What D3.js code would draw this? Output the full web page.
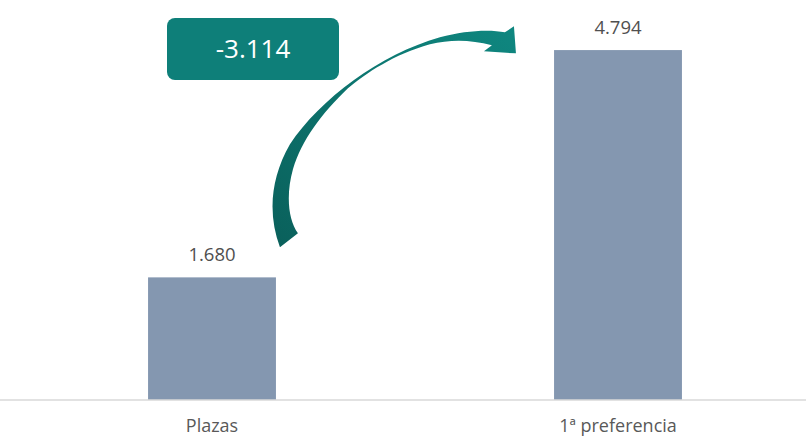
<!DOCTYPE html>
<html>
<head>
<meta charset="utf-8">
<script src="https://cdn.jsdelivr.net/npm/d3@7"></script>
<style>
    body { margin: 0; background: #fff; }
    svg text { font-family: "Open Sans", "Noto Sans", sans-serif; }
</style>
</head>
<body>
<div id="chart"></div>
<script>
// data
const categories = ["Plazas", "1ª preferencia"];
const values = [1680, 4794];
const valueLabels = ["1.680", "4.794"];
const diffLabel = "-3.114";

const width = 806, height = 438;

let svg = d3.select("#chart").append("svg")
    .attr("width", width)
    .attr("height", height);

// scales
let x = d3.scaleBand()
    .domain(categories)
    .range([9, 821])
    .paddingInner(0.685)
    .paddingOuter(0.3425);

let y = d3.scaleLinear()
    .domain([0, 5480])
    .range([400, 0]);

// bars
svg.selectAll(".bar")
    .data(values)
    .enter().append("rect")
    .attr("class", "bar")
    .attr("x", (d, i) => x(categories[i]))
    .attr("y", d => y(d))
    .attr("width", x.bandwidth())
    .attr("height", d => y(0) - y(d))
    .attr("fill", "#8497B0");

// baseline axis
let xAxis = d3.axisBottom(x).tickSize(0).tickPadding(0);
let axisG = svg.append("g")
    .attr("transform", "translate(0," + y(0) + ")")
    .call(xAxis);
axisG.select(".domain").remove();
axisG.selectAll("text").remove();
axisG.append("line")
    .attr("x1", 0).attr("x2", width)
    .attr("stroke", "#D9D9D9").attr("stroke-width", 1.5);

// category labels
svg.selectAll(".cat")
    .data(categories)
    .enter().append("text")
    .attr("class", "cat")
    .attr("x", d => x(d) + x.bandwidth() / 2)
    .attr("y", y(0) + 32)
    .attr("text-anchor", "middle")
    .attr("font-size", 18)
    .attr("fill", "#595959")
    .text(d => d);

// value labels
svg.selectAll(".val")
    .data(values)
    .enter().append("text")
    .attr("class", "val")
    .attr("x", (d, i) => x(categories[i]) + x.bandwidth() / 2)
    .attr("y", d => y(d) - 16)
    .attr("text-anchor", "middle")
    .attr("font-size", 18.5)
    .attr("fill", "#505050")
    .text((d, i) => valueLabels[i]);

// gradient for the curved arrow
let defs = svg.append("defs");
let grad = defs.append("linearGradient")
    .attr("id", "arrowGrad")
    .attr("x1", "0").attr("y1", "1").attr("x2", "1").attr("y2", "0");
grad.append("stop").attr("offset", "0%").attr("stop-color", "#0A605B");
grad.append("stop").attr("offset", "100%").attr("stop-color", "#0F8780");

// curved arrow from Plazas to 1ª preferencia
let x0 = x(categories[0]) + x.bandwidth(), y0 = y(values[0]);
let p = d3.path();
p.moveTo(x0 + 4, y0 - 30);
p.bezierCurveTo(x0 - 8, y0 - 63, x0 - 6, y0 - 98, x0 + 14, y0 - 133);
p.bezierCurveTo(x0 + 44, y0 - 178, x0 + 104, y0 - 223, x0 + 164, y0 - 240);
p.bezierCurveTo(x0 + 189, y0 - 247, x0 + 214, y0 - 248, x0 + 229, y0 - 245);
p.lineTo(x0 + 238, y0 - 251);
p.lineTo(x0 + 240, y0 - 224);
p.lineTo(x0 + 208, y0 - 226);
p.lineTo(x0 + 216, y0 - 232);
p.bezierCurveTo(x0 + 194, y0 - 238, x0 + 174, y0 - 238, x0 + 154, y0 - 233);
p.bezierCurveTo(x0 + 118, y0 - 223, x0 + 90, y0 - 204, x0 + 72, y0 - 189);
p.bezierCurveTo(x0 + 46, y0 - 164, x0 + 26, y0 - 138, x0 + 17, y0 - 108);
p.bezierCurveTo(x0 + 10, y0 - 83, x0 + 12, y0 - 58, x0 + 22, y0 - 44);
p.closePath();

svg.append("path")
    .attr("d", p.toString())
    .attr("fill", "url(#arrowGrad)");

// difference box
let box = svg.append("g").attr("transform", "translate(167,18)");
box.append("rect")
    .attr("width", 172)
    .attr("height", 62)
    .attr("rx", 8)
    .attr("fill", "#0E7F79");
box.append("text")
    .attr("x", 86)
    .attr("y", 40)
    .attr("text-anchor", "middle")
    .attr("font-size", 26)
    .attr("fill", "#ffffff")
    .text(diffLabel);
</script>
</body>
</html>
